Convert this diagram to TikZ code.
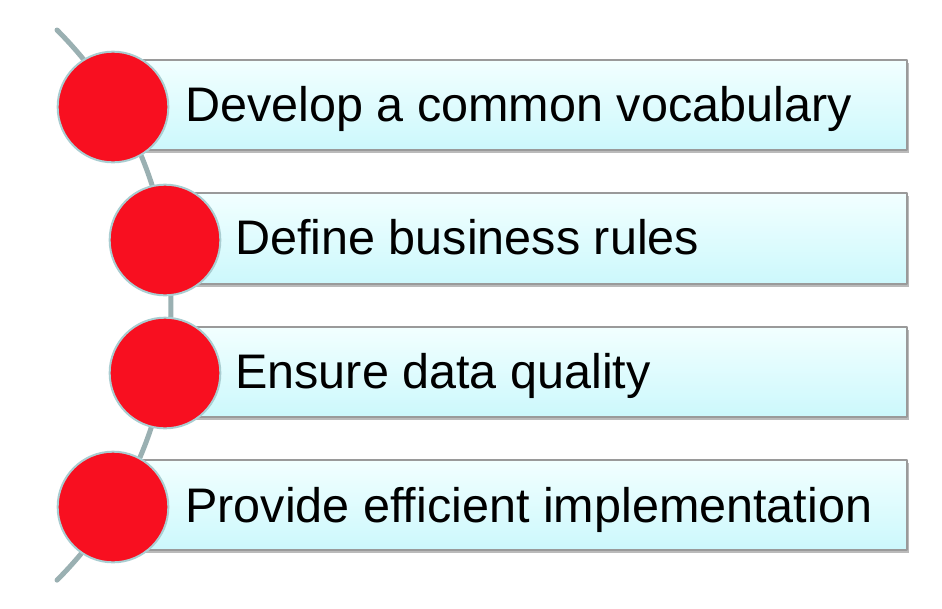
\documentclass[tikz,border=0pt]{standalone}
\usepackage{fontspec}
\setmainfont{Liberation Sans}
\usetikzlibrary{shadows}

\definecolor{dotred}{HTML}{F80F20}
\definecolor{dotrim}{HTML}{A9CDD1}
\definecolor{spine}{HTML}{9AB0B2}
\definecolor{bartop}{HTML}{F2FFFF}
\definecolor{barbot}{HTML}{CCF8FC}
\definecolor{barrim}{HTML}{9A9A9A}

\tikzset{
  bar/.style = {draw = barrim, line width = .8pt, top color = bartop,
    bottom color = barbot,
    drop shadow = {shadow xshift = 1.5pt, shadow yshift = -2pt,
      fill = black!60, opacity = .45}},
  dot/.style = {circle, draw = dotrim, line width = 1.5pt, fill = dotred,
    minimum size = 83pt, inner sep = 0pt},
  item/.style = {anchor = base west, inner sep = 0pt,
    font = \fontsize{36.4}{42}\selectfont}
}

\begin{document}
\begin{tikzpicture}[x = .75pt, y = -.75pt, line join = round, line cap = round]
  \useasboundingbox (0, 0) rectangle (942, 608);

  \draw[spine, line width = 3.75pt] (57, 30) coordinate (top)
  arc[start angle = -45, end angle = 45, radius = 389] coordinate (bot);

  \draw[bar] (113, 60) rectangle (907, 150);
  \draw[bar] (165, 193) rectangle (907, 284);
  \draw[bar] (165, 327) rectangle (907, 417);
  \draw[bar] (113, 460) rectangle (907, 550);

  \node[dot] (d1) at (113, 107) {};
  \node[dot] (d2) at (165, 240) {};
  \node[dot] (d3) at (165, 373) {};
  \node[dot] (d4) at (113, 507) {};

  \node[item] (t1) at (185, 121) {Develop a common vocabulary};
  \node[item] (t2) at (235, 254) {Define business rules};
  \node[item] (t3) at (235, 388) {Ensure data quality};
  \node[item] (t4) at (185, 522) {Provide efficient implementation};
\end{tikzpicture}
\end{document}
